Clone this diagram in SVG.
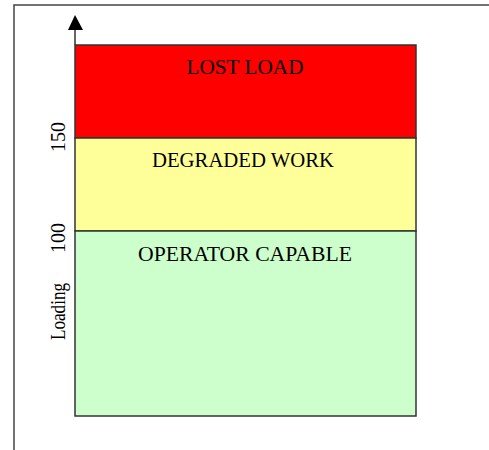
<svg xmlns="http://www.w3.org/2000/svg" width="489" height="450" viewBox="0 0 489 450">
  <style>
    .band { stroke: #333333; stroke-width: 1.5; }
    .lbl { font-family: "Liberation Serif", "Times New Roman", serif; font-size: 21px; fill: #000000; text-anchor: middle; }
    .frame { fill: none; stroke: #444444; stroke-width: 1.5; }
    .axis { stroke: #333333; stroke-width: 1.5; fill: none; }
  </style>
  <rect width="489" height="450" fill="#ffffff"/>
  <path class="frame" d="M14,450 L14,5 L489,5"/>

  <g id="lost-load">
    <rect class="band" x="75" y="45" width="341" height="93" fill="#ff0000"/>
    <text class="lbl" x="245" y="74" textLength="117" lengthAdjust="spacingAndGlyphs">LOST LOAD</text>
  </g>
  <g id="degraded-work">
    <rect class="band" x="75" y="138" width="341" height="93" fill="#ffff99"/>
    <text class="lbl" x="243" y="167" textLength="182" lengthAdjust="spacingAndGlyphs">DEGRADED WORK</text>
  </g>
  <g id="operator-capable">
    <rect class="band" x="75" y="231" width="341" height="185" fill="#ccffcc"/>
    <text class="lbl" x="245" y="261" textLength="214" lengthAdjust="spacingAndGlyphs">OPERATOR CAPABLE</text>
  </g>

  <g id="connectors">
    <line class="axis" x1="75" y1="45" x2="75" y2="28"/>
    <polygon points="75,15 68,30 83,30" fill="#000000"/>
  </g>

  <g id="axis-labels">
    <text class="lbl" transform="translate(65,137) rotate(-90)" x="0" y="0" textLength="30" lengthAdjust="spacingAndGlyphs">150</text>
    <text class="lbl" transform="translate(65,238) rotate(-90)" x="0" y="0" textLength="30" lengthAdjust="spacingAndGlyphs">100</text>
    <text class="lbl" transform="translate(65,311.5) rotate(-90)" x="0" y="0" textLength="57" lengthAdjust="spacingAndGlyphs">Loading</text>
  </g>
</svg>
